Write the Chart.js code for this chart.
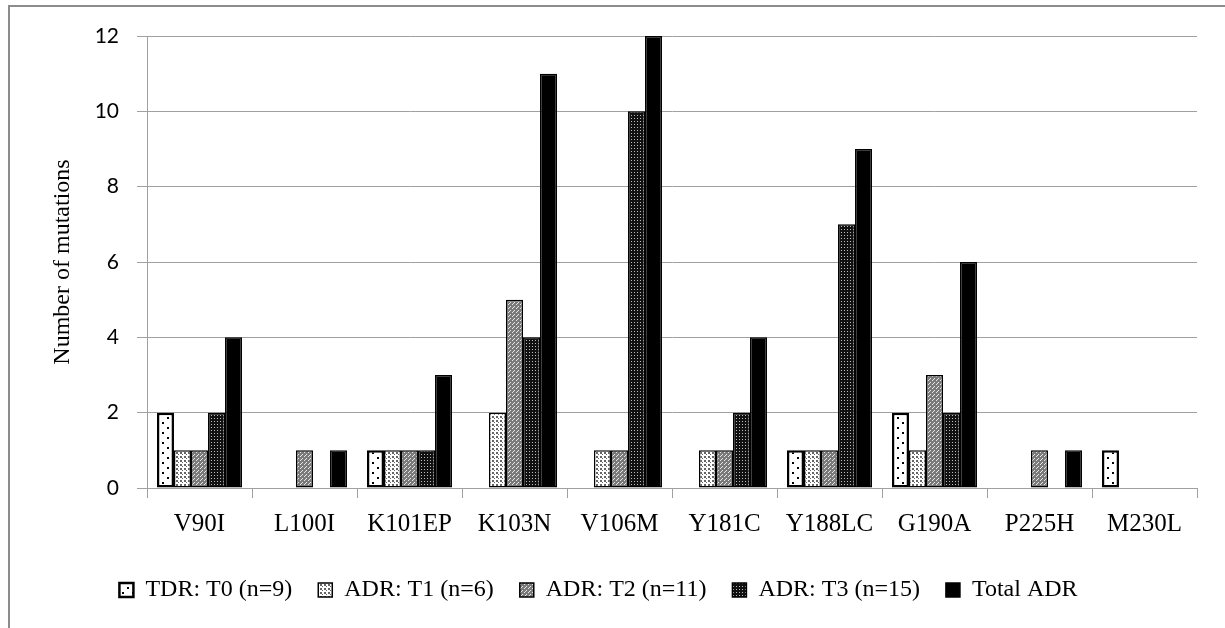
<!DOCTYPE html>
<html>
<head>
<meta charset="utf-8">
<script src="https://cdn.jsdelivr.net/npm/chart.js@4.4.0/dist/chart.umd.min.js"></script>
<style>
  html, body { margin: 0; padding: 0; background: #ffffff; }
  #wrap { width: 1225px; height: 628px; }
</style>
</head>
<body>
<div id="wrap"><canvas id="c" width="1225" height="628"></canvas></div>
<script>
const categories = ["V90I", "L100I", "K101EP", "K103N", "V106M", "Y181C", "Y188LC", "G190A", "P225H", "M230L"];
const seriesNames = ["TDR: T0 (n=9)", "ADR: T1 (n=6)", "ADR: T2 (n=11)", "ADR: T3 (n=15)", "Total ADR"];
const tdrT0    = [2, 0, 1, 0, 0, 0, 1, 2, 0, 1];
const adrT1    = [1, 0, 1, 2, 1, 1, 1, 1, 0, 0];
const adrT2    = [1, 1, 1, 5, 1, 1, 1, 3, 1, 0];
const adrT3    = [2, 0, 1, 4, 10, 2, 7, 2, 0, 0];
const totalADR = [4, 1, 3, 11, 12, 4, 9, 6, 1, 0];
const yTicks   = [0, 2, 4, 6, 8, 10, 12];

function makePattern(size, bg, fg, dots) {
  const pc = document.createElement('canvas');
  pc.width = size; pc.height = size;
  const g = pc.getContext('2d');
  g.fillStyle = bg; g.fillRect(0, 0, size, size);
  g.fillStyle = fg;
  dots.forEach(d => g.fillRect(d[0], d[1], d[2], d[2]));
  return document.getElementById('c').getContext('2d').createPattern(pc, 'repeat');
}

const pT0 = makePattern(10, '#ffffff', '#000000', [[2, 2, 2], [7, 7, 2]]);
const pT1 = makePattern(4, '#ffffff', '#666666', [[0, 0, 2], [2, 2, 1]]);
const pT2 = makePattern(4, '#7a7a7a', '#e8e8e8', [[0, 0, 1], [2, 2, 1], [1, 3, 1]]);
const pT3 = makePattern(3, '#111111', '#bdbdbd', [[1, 1, 1]]);

const frame = {
  id: 'frame',
  beforeDraw(chart) {
    const ctx = chart.ctx;
    ctx.save();
    ctx.fillStyle = '#ffffff';
    ctx.fillRect(0, 0, chart.width, chart.height);
    ctx.strokeStyle = '#8c8c8c';
    ctx.lineWidth = 2;
    ctx.beginPath();
    ctx.moveTo(9, 628);
    ctx.lineTo(9, 6);
    ctx.lineTo(1225, 6);
    ctx.stroke();
    ctx.restore();
  }
};

const serif = "'Liberation Serif', 'Times New Roman', serif";
const gridGray = '#a0a0a0';

function ds(label, data, bg, bw) {
  return {
    label: label, data: data, backgroundColor: bg, borderColor: '#000000',
    borderWidth: bw, borderSkipped: false,
    categoryPercentage: 0.81, barPercentage: 1.0
  };
}

new Chart(document.getElementById('c'), {
  type: 'bar',
  data: {
    labels: categories,
    datasets: [
      ds(seriesNames[0], tdrT0, pT0, 2.5),
      ds(seriesNames[1], adrT1, pT1, 1.5),
      ds(seriesNames[2], adrT2, pT2, 1.5),
      ds(seriesNames[3], adrT3, pT3, 1.5),
      ds(seriesNames[4], totalADR, '#000000', 1.5)
    ]
  },
  options: {
    responsive: false,
    animation: false,
    devicePixelRatio: 1,
    layout: { padding: { left: 0, right: 28, top: 36, bottom: 16 } },
    plugins: {
      tooltip: { enabled: false },
      legend: {
        position: 'bottom',
        labels: {
          color: '#000000',
          font: { family: serif, size: 24 },
          boxWidth: 14, boxHeight: 14,
          padding: 26
        }
      }
    },
    scales: {
      x: {
        grid: { offset: true, drawOnChartArea: false, drawTicks: true, tickLength: 10, color: gridGray },
        border: { color: gridGray, width: 1 },
        ticks: { color: '#000000', font: { family: serif, size: 25 }, padding: 11, maxRotation: 0, autoSkip: false },
        afterFit(scale) { scale.height = 64; }
      },
      y: {
        min: 0, max: 12,
        afterBuildTicks(scale) { scale.ticks = yTicks.map(v => ({ value: v })); },
        grid: { color: gridGray, tickLength: 10 },
        border: { color: gridGray, width: 1 },
        ticks: { color: '#000000', font: { family: "Lato, 'Open Sans', sans-serif", size: 21 }, padding: 18 },
        title: {
          display: true, text: 'Number of mutations', color: '#000000',
          font: { family: serif, size: 24 }, padding: { top: 48, bottom: 0 }
        },
        afterFit(scale) { scale.width = 147; }
      }
    }
  },
  plugins: [frame]
});
</script>
</body>
</html>
